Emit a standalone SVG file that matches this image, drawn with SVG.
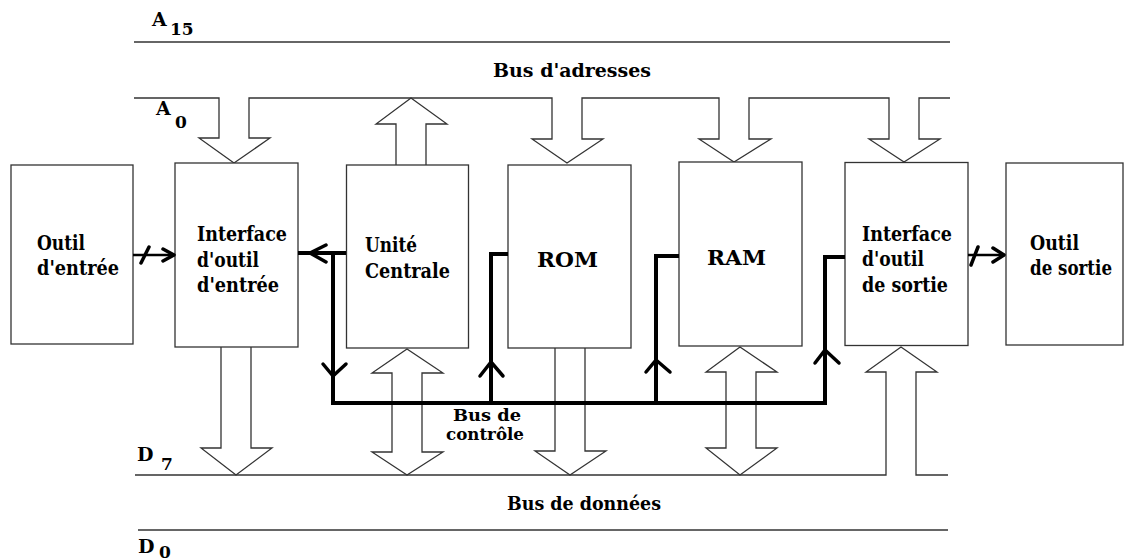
<svg xmlns="http://www.w3.org/2000/svg" width="1125" height="560" viewBox="0 0 1125 560">
<style>
.box{fill:#fff;stroke:#333;stroke-width:1.3}
.thin{fill:none;stroke:#333;stroke-width:1.3}
.thick{fill:none;stroke:#000;stroke-width:4;stroke-linejoin:miter}
.head{fill:none;stroke:#000;stroke-width:3.5;stroke-linecap:round;stroke-linejoin:round}
text{font-family:"DejaVu Serif","Liberation Serif",serif;font-weight:bold;fill:#000}
.t{font-size:20px}
.bus{font-size:18px}
.ctl{font-size:17px}
.sub{font-size:17px}
.cap{font-size:19px}
</style>
<rect width="1125" height="560" fill="#fff"/>

<g id="bus-adresses">
<path class="thin" d="M134,42 H950"/>
<path class="thin" d="M134,98 H219 V138 H199 L234,163 L270,138 H249 V98 H552 V139 H532 L567,163 L603,139 H582 V98 H719 V139 H699 L734,162 L771,139 H749 V98 H889 V139 H869 L904,162 L940,139 H919 V98 H950"/>
<text class="cap" x="152" y="26">A</text><text class="sub" x="170" y="35">15</text>
<text class="cap" x="156" y="115">A</text><text class="sub" x="175" y="128">0</text>
<text class="bus" x="493" y="77" textLength="158" lengthAdjust="spacingAndGlyphs">Bus d'adresses</text>
</g>

<g id="bus-donnees">
<path class="thin" d="M135,475 H886 V372 H866 L901,347 L937,372 H916 V475 H948"/>
<path class="thin" d="M138,530 H948"/>
<text class="cap" x="137" y="461">D</text><text class="sub" x="161" y="470">7</text>
<text class="cap" x="138" y="553">D</text><text class="sub" x="159" y="558">0</text>
<text class="bus" x="507" y="510" textLength="154" lengthAdjust="spacingAndGlyphs">Bus de données</text>
</g>

<g id="outil-entree">
<rect class="box" x="11" y="165" width="122" height="179"/>
<text class="t" x="37" y="250" textLength="48" lengthAdjust="spacingAndGlyphs">Outil</text>
<text class="t" x="37" y="275" textLength="82" lengthAdjust="spacingAndGlyphs">d'entrée</text>
</g>

<g id="interface-entree">
<rect class="box" x="175" y="163" width="123" height="184"/>
<text class="t" x="197" y="241" textLength="90" lengthAdjust="spacingAndGlyphs">Interface</text>
<text class="t" x="197" y="267" textLength="62" lengthAdjust="spacingAndGlyphs">d'outil</text>
<text class="t" x="197" y="292" textLength="82" lengthAdjust="spacingAndGlyphs">d'entrée</text>
</g>

<g id="unite-centrale">
<rect class="box" x="346.5" y="165" width="122" height="183"/>
<text class="t" x="365" y="252" textLength="52" lengthAdjust="spacingAndGlyphs">Unité</text>
<text class="t" x="365" y="278" textLength="85" lengthAdjust="spacingAndGlyphs">Centrale</text>
</g>

<g id="rom">
<rect class="box" x="508" y="165" width="123" height="183"/>
<text class="t" x="537" y="267" textLength="61" lengthAdjust="spacingAndGlyphs">ROM</text>
</g>

<g id="ram">
<rect class="box" x="679" y="162" width="123" height="184"/>
<text class="t" x="707" y="265" textLength="59" lengthAdjust="spacingAndGlyphs">RAM</text>
</g>

<g id="interface-sortie">
<rect class="box" x="845" y="162.5" width="123" height="183"/>
<text class="t" x="862" y="241" textLength="90" lengthAdjust="spacingAndGlyphs">Interface</text>
<text class="t" x="862" y="266" textLength="62" lengthAdjust="spacingAndGlyphs">d'outil</text>
<text class="t" x="862" y="292" textLength="86" lengthAdjust="spacingAndGlyphs">de sortie</text>
</g>

<g id="outil-sortie">
<rect class="box" x="1006" y="163" width="117" height="182"/>
<text class="t" x="1030" y="250" textLength="49" lengthAdjust="spacingAndGlyphs">Outil</text>
<text class="t" x="1030" y="275" textLength="82" lengthAdjust="spacingAndGlyphs">de sortie</text>
</g>

<g id="connectors">
<path class="thin" d="M396,165 V124 H376 L411,98 L447,124 H426 V165"/>
<path class="thin" d="M221,347 V448 H201 L236,475 L272,448 H251 V347"/>
<path class="thin" d="M407,349 L372,373 H392 V452 H372 L407,475 L443,452 H422 V373 H443 Z"/>
<path class="thin" d="M555,348 V451 H535 L570,475 L606,451 H585 V348"/>
<path class="thin" d="M740,347 L706,372 H726 V448 H706 L740,475 L777,448 H756 V372 H777 Z"/>
<path class="thin" d="M133,255 H175" style="stroke:#000;stroke-width:2.5"/>
<path class="head" d="M163,249 L174,255 L163,261"/>
<path class="head" d="M141,263 L149,247"/>
<path class="thin" d="M968,255 H1005" style="stroke:#000;stroke-width:2.5"/>
<path class="head" d="M993,248 L1004,255 L993,262"/>
<path class="head" d="M971,265 L978,247"/>
<path class="thick" d="M346,253 H298"/>
<path class="head" d="M326,245 L310,253 L326,262"/>
<path class="thick" d="M333,253 V403 H825 V257 H845"/>
<path class="head" d="M323,364 L333,376 L346,364"/>
<path class="thick" d="M491,403 V254 H508"/>
<path class="head" d="M480,376 L491,362 L503,376"/>
<path class="thick" d="M656,403 V256 H679"/>
<path class="head" d="M646,372 L656,360 L670,372"/>
<path class="head" d="M815,363 L825,350 L839,363"/>
<text class="ctl" x="453" y="421" textLength="68" lengthAdjust="spacingAndGlyphs">Bus de</text>
<text class="ctl" x="446" y="440" textLength="78" lengthAdjust="spacingAndGlyphs">contrôle</text>
</g>
</svg>
